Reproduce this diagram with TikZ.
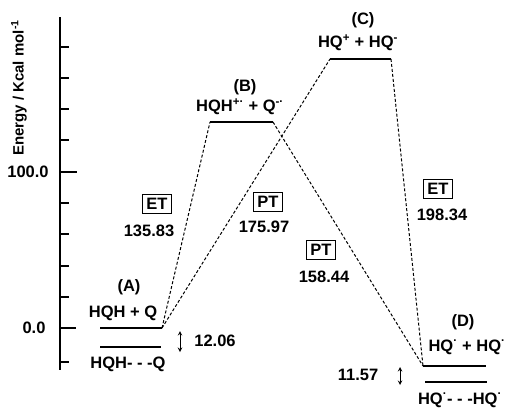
\documentclass[tikz,border=0pt]{standalone}
\usepackage{fontspec}
\setmainfont{Liberation Sans}
\newcommand{\rad}{\textsuperscript{·}}
\begin{document}
\begin{tikzpicture}[x=1pt,y=-1pt,>=stealth,line width=0.8pt,
  font=\fontsize{16.5}{19}\selectfont\bfseries,
  level/.style={line width=1.8pt},
  route/.style={line width=1pt,dash pattern=on 3pt off 2pt},
  tag/.style={draw,line width=0.9pt,inner xsep=4pt,inner ysep=4pt}]
  \useasboundingbox (0,0) rectangle (508,407);

  % energy axis
  \draw[line width=1.8pt] (60,17) -- (60,370);
  \foreach \y in {47,78,109,140,203,234,266,297,362}
    \draw[line width=1.3pt] (60,\y) -- (69,\y);
  \draw[line width=1.3pt] (60,172) -- (77,172);
  \draw[line width=1.3pt] (60,328) -- (76,328);
  \node (e100) at (28,172) {100.0};
  \node (e0) at (34,328) {0.0};
  \node[rotate=90,font=\fontsize{15}{18}\selectfont\bfseries] (elabel) at (19,88)
    {Energy / Kcal mol\textsuperscript{-1}};

  % levels
  \coordinate (Al) at (100,328); \coordinate (Ar) at (162,328);
  \coordinate (ALl) at (100,347); \coordinate (ALr) at (161,347);
  \coordinate (Bl) at (210,122); \coordinate (Br) at (273,122);
  \coordinate (Cl) at (330,59); \coordinate (Cr) at (391,59);
  \coordinate (Dl) at (423,366); \coordinate (Dr) at (486,366);
  \coordinate (DLl) at (425,382); \coordinate (DLr) at (487,382);
  \draw[level] (Al) -- (Ar);
  \draw[level] (ALl) -- (ALr);
  \draw[level] (Bl) -- (Br);
  \draw[level] (Cl) -- (Cr);
  \draw[level] (Dl) -- (Dr);
  \draw[level] (DLl) -- (DLr);

  % reaction paths
  \draw[route] (Ar) -- (Bl);
  \draw[route] (Ar) -- (Cl);
  \draw[route] (Br) -- (Dl);
  \draw[route] (Cr) -- (Dl);

  % state labels
  \node (A) at (129,287) {(A)};
  \node (Atop) at (123,313) {HQH + Q};
  \node (Abot) at (128,364) {HQH- - -Q};
  \node (B) at (245,87) {(B)};
  \node (Btop) at (240,107) {HQH\textsuperscript{+·} + Q\textsuperscript{-·}};
  \node (C) at (363,20) {(C)};
  \node (Ctop) at (358,43) {HQ\textsuperscript{+} + HQ\textsuperscript{-}};
  \node (D) at (463,322) {(D)};
  \node (Dtop) at (467,347) {HQ\rad{} + HQ\rad};
  \node (Dbot) at (460,400) {HQ\rad- - -HQ\rad};

  % barriers
  \node[tag] (et1) at (157,204) {ET};
  \node (v1) at (149,231) {135.83};
  \node[tag] (pt1) at (268,202) {PT};
  \node (v2) at (264,227) {175.97};
  \node[tag] (pt2) at (321,250) {PT};
  \node (v3) at (324,277) {158.44};
  \node[tag] (et2) at (438,189) {ET};
  \node (v4) at (442,215) {198.34};

  % binding energies
  \coordinate (a1) at (180,331); \coordinate (a2) at (180,352);
  \draw[<->,line width=1pt] (a1) -- (a2);
  \node (bA) at (215,341) {12.06};
  \coordinate (d1) at (400,367); \coordinate (d2) at (400,385);
  \draw[<->,line width=1pt] (d1) -- (d2);
  \node (bD) at (358,375) {11.57};
\end{tikzpicture}
\end{document}
